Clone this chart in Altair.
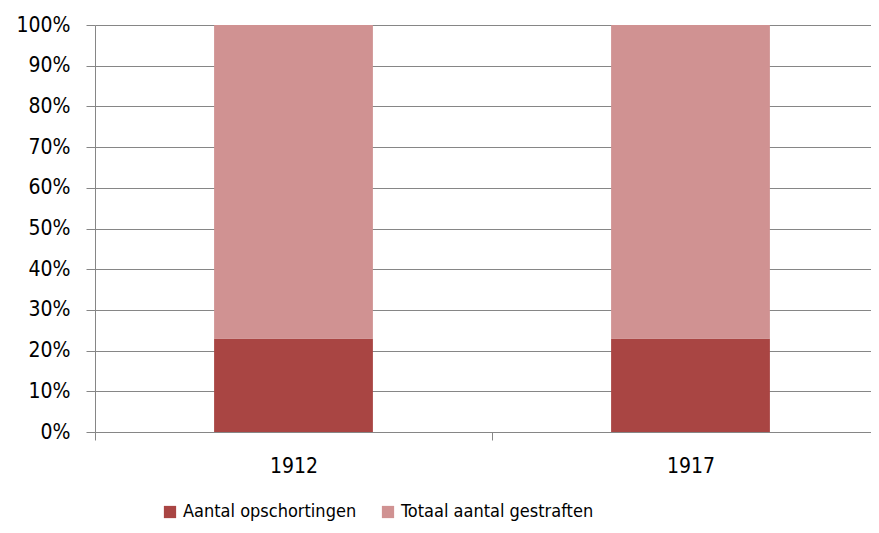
import altair as alt
import pandas as pd

years = ["1912", "1917"]
series = ["Aantal opschortingen", "Totaal aantal gestraften"]
opschortingen = [23, 23]
gestraften = [77, 77]

rows = []
for i, y in enumerate(years):
    rows.append({"jaar": y, "reeks": series[0], "waarde": opschortingen[i], "volg": 0})
    rows.append({"jaar": y, "reeks": series[1], "waarde": gestraften[i], "volg": 1})
df = pd.DataFrame(rows)

FONT = "Liberation Sans Narrow, DejaVu Sans Condensed, Roboto Condensed, Lato, sans-serif"
GRID = "#868686"

chart = alt.Chart(df).mark_bar(width=alt.RelativeBandSize(0.4)).encode(
    x=alt.X("jaar:N", sort=years, title=None,
            scale=alt.Scale(paddingInner=0, paddingOuter=0, range=[0, 794]),
            axis=alt.Axis(labelAngle=0, tickBand="extent", tickSize=8, tickColor=GRID,
                          domainColor=GRID, labelFont=FONT, labelFontSize=21,
                          labelColor="#000000", labelPadding=15, grid=False)),
    y=alt.Y("waarde:Q", stack="normalize", title=None,
            scale=alt.Scale(domain=[0, 1]),
            axis=alt.Axis(format=".0%", values=[i / 10 for i in range(11)],
                          tickSize=9, tickColor=GRID, domainColor=GRID,
                          gridColor=GRID, gridWidth=1, labelFont=FONT,
                          labelFontSize=21, labelColor="#000000", labelPadding=16)),
    color=alt.Color("reeks:N", sort=series, title=None,
                    scale=alt.Scale(domain=series, range=["#A94543", "#D09292"]),
                    legend=alt.Legend(orient="none", legendX=66, legendY=478,
                                      direction="horizontal", symbolType="square",
                                      symbolSize=150, symbolStrokeWidth=0,
                                      labelFont=FONT, labelFontSize=18, labelLimit=0,
                                      labelColor="#000000", columnPadding=22,
                                      labelOffset=4)),
    order=alt.Order("volg:Q"),
).properties(
    width=776, height=407,
    autosize=alt.AutoSizeParams(type="none"),
    padding={"left": 87, "top": 17, "right": 0, "bottom": 93},
).configure_view(stroke=None)

chart.save("out.html", embed_options={"renderer": "svg", "actions": False})
